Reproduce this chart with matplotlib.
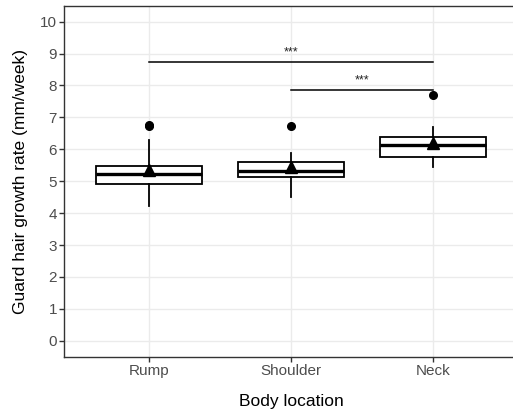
import matplotlib
matplotlib.use("Agg")
import matplotlib.pyplot as plt

plt.rcParams['font.family'] = ['Liberation Sans', 'DejaVu Sans']

categories = ["Rump", "Shoulder", "Neck"]
q1 = [4.91, 5.13, 5.77]
medians = [5.24, 5.33, 6.13]
q3 = [5.49, 5.61, 6.37]
whisker_low = [4.23, 4.49, 5.46]
whisker_high = [6.29, 5.89, 6.71]
means = [5.35, 5.45, 6.19]
outliers = [[6.73, 6.77], [6.74], [7.69]]
yticks = list(range(0, 11))

brackets = [(0, 2, 8.73, "***"), (1, 2, 7.86, "***")]

fig = plt.figure(figsize=(5.13, 4.13), dpi=100)
ax = fig.add_axes([64/513, 56.3/413, (518-64)/513, 351/413])

stats = []
for i, c in enumerate(categories):
    stats.append(dict(label=c, q1=q1[i], med=medians[i], q3=q3[i],
                      whislo=whisker_low[i], whishi=whisker_high[i],
                      mean=means[i], fliers=outliers[i]))
pos = list(range(1, len(categories) + 1))
ax.bxp(stats, positions=pos, widths=0.75, showmeans=True, showcaps=False,
       patch_artist=True,
       boxprops=dict(facecolor="white", edgecolor="black", linewidth=1.3),
       medianprops=dict(color="black", linewidth=2.4),
       whiskerprops=dict(color="black", linewidth=1.3),
       flierprops=dict(marker="o", markerfacecolor="black", markeredgecolor="black", markersize=5.5),
       meanprops=dict(marker="^", markerfacecolor="black", markeredgecolor="black", markersize=9),
       zorder=3)

for a, b, y, s in brackets:
    ax.plot([pos[a], pos[b]], [y, y], color="black", lw=1.1, zorder=3)
    ax.text((pos[a] + pos[b]) / 2, y + 0.12, s, ha="center", va="bottom", fontsize=9, color="#222222")

ax.set_xlim(0.4, 3.6)
ax.set_ylim(-0.5, 10.5)
ax.set_yticks(yticks)
ax.set_xticks(pos)
ax.set_xticklabels(categories)
ax.grid(True, color="#EBEBEB", lw=1.0, zorder=0)
ax.set_axisbelow(True)
for sp in ax.spines.values():
    sp.set_color("#333333")
    sp.set_linewidth(1.0)
ax.spines["right"].set_visible(False)
ax.tick_params(axis="both", colors="#333333", labelcolor="#4D4D4D", labelsize=11, length=3.5, width=1.0, pad=1.5)
ax.set_xlabel("Body location", fontsize=12.5, labelpad=12)
ax.set_ylabel("Guard hair growth rate (mm/week)", fontsize=12.5, labelpad=9)

fig.savefig("out.png", dpi=100)
